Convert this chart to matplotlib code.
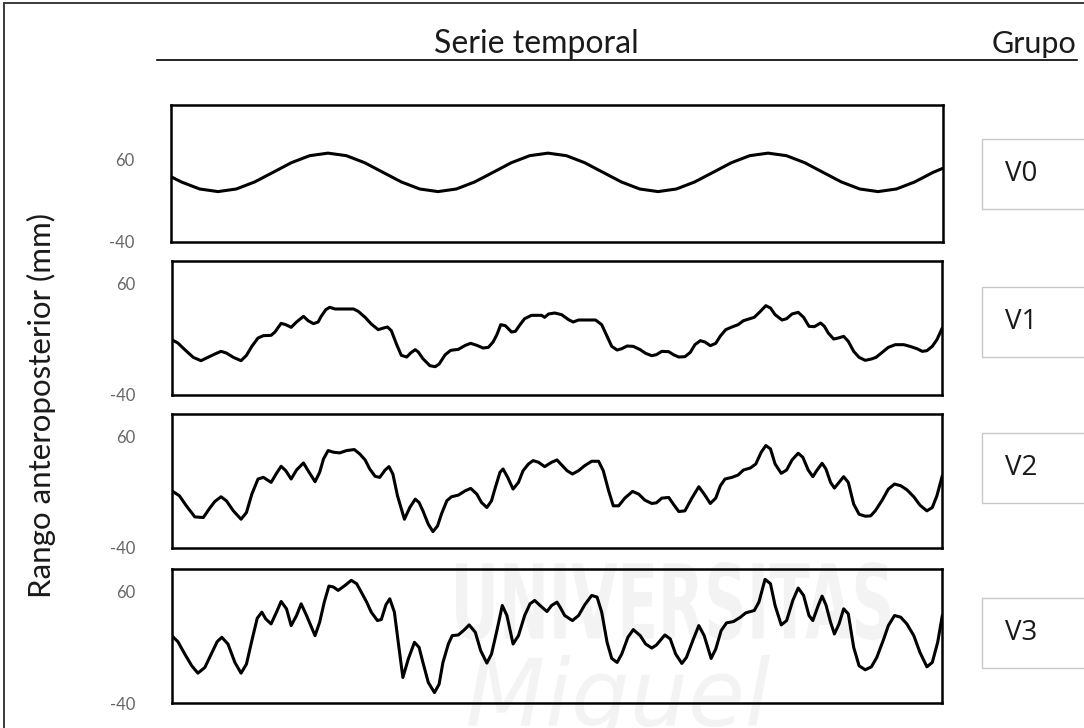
import matplotlib
matplotlib.use('Agg')
import matplotlib.pyplot as plt
from matplotlib.lines import Line2D
from matplotlib.patches import Rectangle, PathPatch
from matplotlib.textpath import TextPath
from matplotlib.font_manager import FontProperties
from matplotlib.transforms import Affine2D

# ---------------- data (time in % of record, anteroposterior range in mm) ----------------
groups = ['V0', 'V1', 'V2', 'V3']
header_left = 'Serie temporal'
header_right = 'Grupo'
y_label = 'Rango anteroposterior (mm)'
tick_values = [-40, 60]
tick_labels = ['-40', '60']

V0_t = [0.0, 1.4, 3.78, 6.15, 8.53, 10.9, 13.28, 15.65, 18.03, 20.4, 22.78, 25.15, 27.53,
        29.9, 32.28, 34.65, 37.03, 39.4, 41.78, 44.15, 46.53, 48.9, 51.28, 53.65, 56.03,
        58.4, 60.78, 63.15, 65.53, 67.9, 70.28, 72.65, 75.03, 77.4, 79.78, 82.15, 84.53,
        86.9, 89.28, 91.65, 94.03, 96.4, 98.78, 100.0]
V0_v = [39.7, 33.0, 24.4, 21.2, 24.4, 33.0, 44.7, 56.5, 65.1, 68.2,
        65.1, 56.5, 44.7, 33.0, 24.4, 21.2, 24.4, 33.0, 44.7, 56.5, 65.1, 68.2,
        65.1, 56.5, 44.7, 33.0, 24.4, 21.2, 24.4, 33.0, 44.7, 56.5, 65.1, 68.2,
        65.1, 56.5, 44.7, 33.0, 24.4, 21.2, 24.4, 33.0, 44.7, 49.5]

V1_t = [0.0, 0.8, 1.7, 2.8, 3.8, 4.7, 5.6, 6.4, 7.1, 8.0, 9.0, 9.7, 10.4, 11.2, 11.9, 12.9,
        13.4, 14.2, 14.8, 15.5, 16.2, 17.1, 17.7, 18.4, 19.0, 19.4, 20.0, 20.5, 21.2, 22.5,
        23.6, 24.2, 25.1, 25.9, 26.8, 27.5, 28.0, 28.5, 29.2, 29.8, 30.5, 31.0, 31.6, 32.0,
        32.6, 33.5, 34.2, 34.7, 35.5, 36.2, 37.2, 38.1, 38.8, 39.6, 40.4, 41.1, 41.7, 42.2,
        42.7, 43.3, 44.1, 44.6, 45.2, 45.8, 46.7, 48.0, 48.4, 48.9, 49.7, 50.6, 51.5, 52.1,
        52.8, 54.1, 55.0, 55.8, 56.5, 57.1, 57.8, 58.4, 59.1, 59.9, 60.8, 61.5, 62.3, 62.9,
        63.6, 64.5, 65.1, 65.8, 66.6, 67.3, 67.9, 68.6, 69.2, 69.9, 70.6, 71.2, 71.9, 72.7,
        73.5, 74.2, 74.9, 75.6, 76.4, 77.1, 77.7, 78.3, 79.2, 79.8, 80.5, 81.3, 82.0, 82.7,
        83.4, 84.2, 84.7, 85.2, 85.9, 86.5, 87.2, 87.8, 88.5, 89.2, 90.0, 90.8, 91.4, 92.2,
        93.0, 93.9, 95.0, 95.8, 96.7, 97.4, 98.0, 98.7, 99.3, 100.0]
V1_v = [9.5, 6.5, 0.5, -6.4, -9.4, -6.4, -3.4, -1.0, -2.5, -6.4, -9.4, -4.6, 3.5, 11.0, 13.1,
        13.4, 16.4, 24.2, 23.0, 20.6, 25.4, 30.5, 26.6, 23.9, 25.4, 30.5, 36.5, 38.6, 37.1,
        37.1, 37.1, 35.0, 29.6, 23.6, 18.5, 20.0, 20.9, 17.6, 5.0, -4.6, -6.1, -2.5, 0.5,
        -1.6, -7.6, -13.9, -14.8, -12.4, -4.0, -0.1, 0.8, 4.4, 6.2, 4.4, 2.0, 2.6, 7.4, 14.0,
        23.0, 22.1, 16.4, 17.0, 23.0, 28.4, 31.4, 31.4, 29.6, 32.6, 33.5, 32.0, 27.5, 25.4,
        27.2, 27.2, 27.2, 23.0, 12.5, 3.5, 0.2, 1.4, 3.8, 3.5, 0.5, -2.8, -4.9, -4.0, -1.0,
        -1.3, -4.0, -6.1, -5.8, -1.9, 5.0, 8.6, 7.4, 4.1, 6.2, 12.8, 18.5, 20.9, 23.0, 26.6,
        28.1, 29.6, 35.0, 40.1, 38.0, 32.0, 27.2, 28.4, 32.6, 34.1, 29.6, 21.5, 21.2, 24.5,
        21.5, 15.5, 10.1, 11.0, 12.5, 8.0, -1.0, -6.4, -9.1, -7.9, -6.4, -1.9, 2.6, 5.0, 5.0,
        3.5, 1.4, -1.0, -0.4, 3.5, 9.5, 20.0]

V2_t = [0.0, 1.0, 1.9, 3.0, 4.1, 4.9, 5.6, 6.4, 7.1, 8.0, 9.0, 9.7, 10.4, 11.2, 11.9, 12.9,
        13.6, 14.2, 14.8, 15.5, 16.2, 17.1, 17.7, 18.6, 19.2, 19.7, 20.3, 21.0, 21.8, 22.7,
        23.7, 24.4, 25.1, 25.7, 26.4, 27.0, 27.7, 28.2, 28.7, 29.3, 30.2, 30.9, 31.6, 32.1,
        32.6, 33.3, 33.9, 34.5, 35.0, 35.7, 36.3, 37.2, 38.1, 38.8, 39.6, 40.2, 40.9, 41.5,
        42.0, 42.6, 43.0, 43.6, 44.3, 45.0, 45.6, 46.3, 46.9, 47.6, 48.4, 49.3, 50.0,
        50.4, 51.3, 52.0, 52.8, 53.6, 54.5, 55.4, 56.0, 56.7, 57.3, 58.0, 58.8, 59.8, 60.6,
        61.4, 62.3, 62.9, 63.6, 64.5, 65.1, 65.8, 66.6, 67.5, 68.4, 69.1, 69.9, 70.6, 71.2,
        71.8, 72.7, 73.5, 74.2, 75.1, 75.8, 76.5, 77.1, 77.7, 78.3, 79.1, 79.8, 80.5, 81.3,
        81.9, 82.6, 83.2, 83.7, 84.4, 84.9, 85.5, 86.0, 86.6, 87.2, 87.8, 88.5, 89.2, 90.0,
        90.7, 91.3, 92.2, 93.0, 93.8, 94.6, 95.4, 96.3, 97.1, 98.0, 98.7, 99.3, 100.0]
V2_v = [11.0, 6.5, -2.5, -12.4, -13.0, -4.9, 1.4, 5.6, 2.0, -7.0, -14.5, -8.5, 8.0, 21.5,
        23.0, 18.5, 26.6, 32.9, 29.0, 21.5, 29.6, 35.9, 29.0, 19.1, 27.5, 39.5, 47.0, 45.5,
        44.9, 47.0, 47.9, 44.0, 38.6, 30.5, 23.9, 23.0, 29.6, 32.6, 26.0, 6.5, -14.5, -4.0,
        3.5, 0.5, -7.0, -19.0, -25.6, -20.5, -10.0, 2.0, 5.6, 7.1, 11.0, 13.1, 8.0, 0.5, -4.0,
        2.0, 14.0, 27.5, 30.5, 23.0, 12.5, 18.5, 29.0, 35.0, 38.0, 36.5, 32.6, 36.5, 38.6,
        35.6, 29.0, 26.0, 29.0, 33.5, 37.4, 37.4, 29.0, 11.0, -2.5, -2.5, 4.4, 10.4, 8.0, 2.6,
        -0.4, 0.2, 4.4, 5.0, -1.0, -7.6, -7.0, 4.4, 14.6, 8.0, -0.4, 4.4, 15.5, 21.5, 23.0,
        25.1, 29.6, 31.4, 35.0, 45.5, 51.5, 48.5, 35.0, 26.6, 29.6, 38.6, 44.6, 41.0, 29.6,
        23.6, 29.0, 35.6, 30.5, 18.5, 13.4, 18.5, 23.6, 18.5, -1.0, -10.0, -11.8, -11.5, -7.0,
        2.6, 12.5, 17.0, 15.5, 11.9, 5.6, -1.9, -7.0, -4.0, 6.5, 24.5]

V3_t = [0.0, 0.8, 1.7, 2.6, 3.4, 4.3, 5.2, 5.9, 6.5, 7.3, 8.2, 9.0, 9.7, 10.4, 11.1, 11.7,
        12.2, 12.9, 13.6, 14.2, 14.9, 15.5, 16.2, 16.8, 17.5, 18.6, 19.2, 19.8, 20.4, 21.0,
        21.6, 22.5, 23.3, 24.0, 24.6, 25.3, 25.9, 26.7, 27.2, 27.8, 28.3, 28.9, 29.4, 30.0,
        30.7, 31.5, 32.1, 32.6, 33.3, 34.1, 34.7, 35.2, 35.9, 36.4, 37.2, 38.0, 38.6, 39.4,
        40.1, 40.9, 41.5, 42.2, 42.9, 43.5, 44.3, 45.0, 45.8, 46.5, 47.1, 47.8, 48.7, 49.3,
        50.0, 50.4, 51.0, 52.0, 52.8, 53.6, 54.5, 55.2, 55.8, 56.5, 57.1, 57.8, 58.4, 59.2,
        59.9, 60.8, 61.5, 62.3, 62.9, 64.0, 64.7, 65.4, 66.2, 66.8, 67.7, 68.4, 69.1, 70.0,
        70.6, 71.3, 72.0, 72.9, 73.8, 74.5, 75.6, 76.2, 77.0, 77.7, 78.3, 79.1, 79.8, 80.6,
        81.3, 82.0, 82.7, 83.2, 83.9, 84.4, 84.9, 85.5, 86.0, 86.6, 87.2, 87.8, 88.5, 89.2,
        90.0, 90.8, 91.5, 92.4, 93.0, 93.8, 94.6, 95.4, 96.3, 97.1, 98.0, 98.7, 99.4, 100.0]
V3_v = [20.6, 15.2, 4.1, -6.4, -13.0, -7.9, 5.0, 15.2, 19.1, 13.1, -3.4, -13.0, -4.9, 16.1,
        36.2, 41.6, 35.6, 31.1, 41.6, 51.2, 44.6, 29.6, 38.6, 49.1, 38.6, 20.6, 32.6, 50.6,
        65.0, 64.1, 61.1, 65.6, 70.1, 67.1, 59.6, 50.6, 41.6, 34.1, 35.0, 48.2, 53.6, 41.6,
        14.6, -16.9, -0.4, 14.6, 10.1, -3.4, -21.4, -30.4, -22.9, -3.4, 13.1, 20.6, 21.2,
        26.0, 30.2, 23.6, 7.1, -4.0, 4.1, 25.1, 47.6, 38.6, 13.1, 20.6, 38.6, 49.1, 52.1,
        47.6, 42.2, 47.6, 50.6,
        46.1, 38.6, 34.1, 38.6, 48.2, 56.6, 55.1, 41.6, 14.6, 0.2, -3.4, 4.1, 19.1, 26.0,
        20.6, 13.1, 9.5, 12.2, 21.2, 17.6, 4.1, -4.3, 1.1, 17.6, 29.6, 20.6, 0.2, 8.6, 25.1,
        32.0, 33.2, 37.1, 41.0, 43.1, 50.6, 71.0, 67.1, 47.6, 30.2, 34.1, 52.1, 63.2, 56.6,
        38.6, 34.1, 47.6, 56.0, 48.2, 32.6, 22.1, 31.1, 44.6, 40.1, 10.1, -6.4, -10.0, -7.3,
        1.1, 17.6, 29.6, 38.6, 37.1, 31.1, 20.6, 5.6, -7.3, -3.4, 14.6, 38.6]

series_t = [V0_t, V1_t, V2_t, V3_t]
series_v = [V0_v, V1_v, V2_v, V3_v]
y_limits = [(-40, 127), (-40, 80), (-40, 80), (-40, 80)]

# ---------------- layout ----------------
W, H = 1084, 728
fig = plt.figure(figsize=(W / 100, H / 100), dpi=100)
fig.patch.set_facecolor('white')


def fx(px):
    return px / W


def fy(py):
    return 1 - py / H


FONT = ['Lato', 'DejaVu Sans']
FONT_V = ['Open Sans', 'DejaVu Sans']

# faint watermark
wm_color = '#f3f3f3'
for txt, (x0, y0, x1, y1), props in [
        ('UNIVERSITAS', (456, 562, 890, 640), FontProperties(family='DejaVu Sans', weight='bold')),
        ('Miguel', (468, 655, 770, 745), FontProperties(family='DejaVu Sans', style='italic'))]:
    tp = TextPath((0, 0), txt, size=1, prop=props)
    bb = tp.get_extents()
    tr = (Affine2D().translate(-bb.x0, -bb.y0)
          .scale((fx(x1) - fx(x0)) / bb.width, (fy(y0) - fy(y1)) / bb.height)
          .translate(fx(x0), fy(y1)) + fig.transFigure)
    fig.add_artist(PathPatch(tp, transform=tr, facecolor=wm_color, edgecolor='none', zorder=-5))

# outer border (left & top)
fig.add_artist(Line2D([fx(4), fx(4)], [fy(3), fy(730)], transform=fig.transFigure,
                      color='#3a3a3a', lw=1.4))
fig.add_artist(Line2D([fx(4), fx(1090)], [fy(3), fy(3)], transform=fig.transFigure,
                      color='#3a3a3a', lw=1.4))

# header
fig.text(fx(536), fy(53), header_left, ha='center', va='baseline', fontsize=23,
         family=FONT, color='#1a1a1a')
fig.text(fx(1034), fy(53), header_right, ha='center', va='baseline', fontsize=22,
         family=FONT, color='#1a1a1a')
fig.add_artist(Line2D([fx(157), fx(1077)], [fy(60), fy(60)], transform=fig.transFigure,
                      color='black', lw=1.2))

# y label
fig.text(fx(41), fy(405), y_label, rotation=90, ha='center', va='center', fontsize=22.5,
         family=FONT, color='#1a1a1a')

panel_px = [(170.5, 105.0, 942.5, 241.7),
            (171.7, 261.3, 942.3, 394.7),
            (171.7, 413.7, 942.3, 547.7),
            (171.7, 569.3, 942.3, 703.3)]
box_px = [(982, 139, 209), (982, 287, 357), (982, 433, 503), (982, 598, 668)]

for i, (l, t, r, b) in enumerate(panel_px):
    ax = fig.add_axes([fx(l), fy(b), fx(r) - fx(l), fy(t) - fy(b)])
    ax.set_facecolor('none')
    ax.plot(series_t[i], series_v[i], color='black', lw=2.2,
            solid_joinstyle='round', solid_capstyle='round')
    ax.set_xlim(0, 100)
    ax.set_ylim(*y_limits[i])
    ax.set_xticks([])
    ax.set_yticks(tick_values)
    ax.set_yticklabels(tick_labels, family=FONT)
    ax.tick_params(axis='y', length=0, pad=26, labelsize=12, labelcolor='#666666')
    for s in ax.spines.values():
        s.set_linewidth(1.8)
        s.set_color('black')

    bx, btop, bbot = box_px[i]
    fig.add_artist(Rectangle((fx(bx), fy(bbot)), fx(1100) - fx(bx), fy(btop) - fy(bbot),
                             transform=fig.transFigure, facecolor='white',
                             edgecolor='#c8c8c8', lw=1.0))
    fig.text(fx(1005), (fy(btop) + fy(bbot)) / 2, groups[i], ha='left', va='center',
             fontsize=20, family=FONT_V, color='#1a1a1a')

fig.savefig('out.png', dpi=100, facecolor='white')
